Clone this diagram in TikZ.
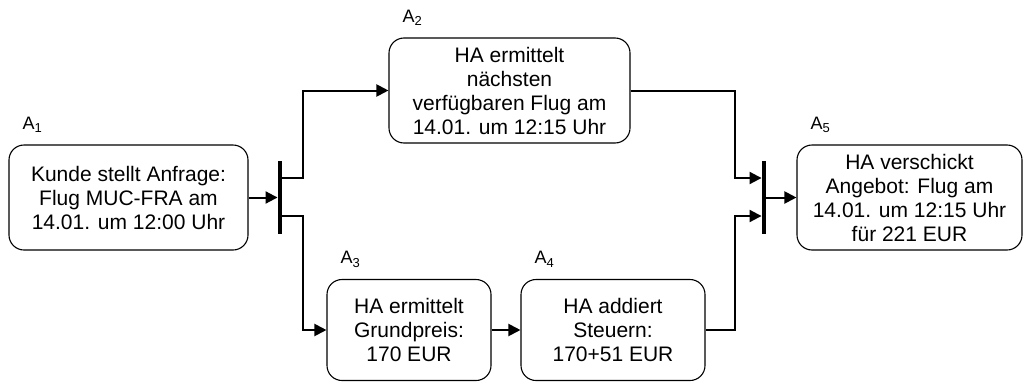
\documentclass[tikz,border=0pt]{standalone}
\usepackage{fontspec}
\setmainfont{Liberation Sans}
\usetikzlibrary{arrows.meta}
\newcommand{\actlabel}[1]{A\raisebox{-0.35ex}{\fontsize{13}{13}\selectfont #1}}
\begin{document}
\begin{tikzpicture}[x=1pt,y=-1pt,
  act/.style={draw=black, line width=1.1pt, rounded corners=15pt, align=center,
    inner sep=0pt, font=\fontsize{21}{24}\selectfont},
  bar/.style={fill=black, inner sep=0pt, minimum width=4.5pt, minimum height=73pt},
  conn/.style={line width=2pt, -{Triangle[length=12pt,width=12pt]}},
  lab/.style={anchor=base west, inner sep=0pt, font=\fontsize{18}{20}\selectfont}]
\useasboundingbox (0,0) rectangle (1027,383);

% activities
\node[act, minimum width=239pt, minimum height=105pt] (A1) at (128.5,197.5)
  {Kunde stellt Anfrage:\\Flug MUC-FRA am\\14.01. um 12:00 Uhr};
\node[act, minimum width=241pt, minimum height=105pt] (A2) at (509.5,90.5)
  {HA ermittelt\\nächsten\\verfügbaren Flug am\\14.01. um 12:15 Uhr};
\node[act, minimum width=164pt, minimum height=101pt] (A3) at (409,330)
  {HA ermittelt\\Grundpreis:\\170 EUR};
\node[act, minimum width=184pt, minimum height=101pt] (A4) at (613,330)
  {HA addiert\\Steuern:\\170+51 EUR};
\node[act, minimum width=225pt, minimum height=105pt] (A5) at (909.5,197.5)
  {HA verschickt\\Angebot: Flug am\\14.01. um 12:15 Uhr\\für 221 EUR};

% activity labels
\foreach \n/\i in {A1/1,A2/2,A3/3,A4/4,A5/5}
  \node[lab] (L\i) at ([shift={(14,-15)}]\n.north west) {\actlabel{\i}};

% split and join bars
\node[bar] (B1) at (280,197.5) {};
\node[bar] (B2) at (764,197.5) {};

% branch points
\coordinate (s1) at (303,178);
\coordinate (s2) at (303,216);
\coordinate (j1) at (735,178);
\coordinate (j2) at (735,216);

% connectors
\draw[conn] (A1.east) -- (B1.west);
\draw[conn] (B1.east |- s1) -- (s1) |- (A2.west);
\draw[conn] (B1.east |- s2) -- (s2) |- (A3.west);
\draw[conn] (A3.east) -- (A4.west);
\draw[conn] (A2.east) -| (j1) -- (B2.west |- j1);
\draw[conn] (A4.east) -| (j2) -- (B2.west |- j2);
\draw[conn] (B2.east) -- (A5.west);
\end{tikzpicture}
\end{document}
